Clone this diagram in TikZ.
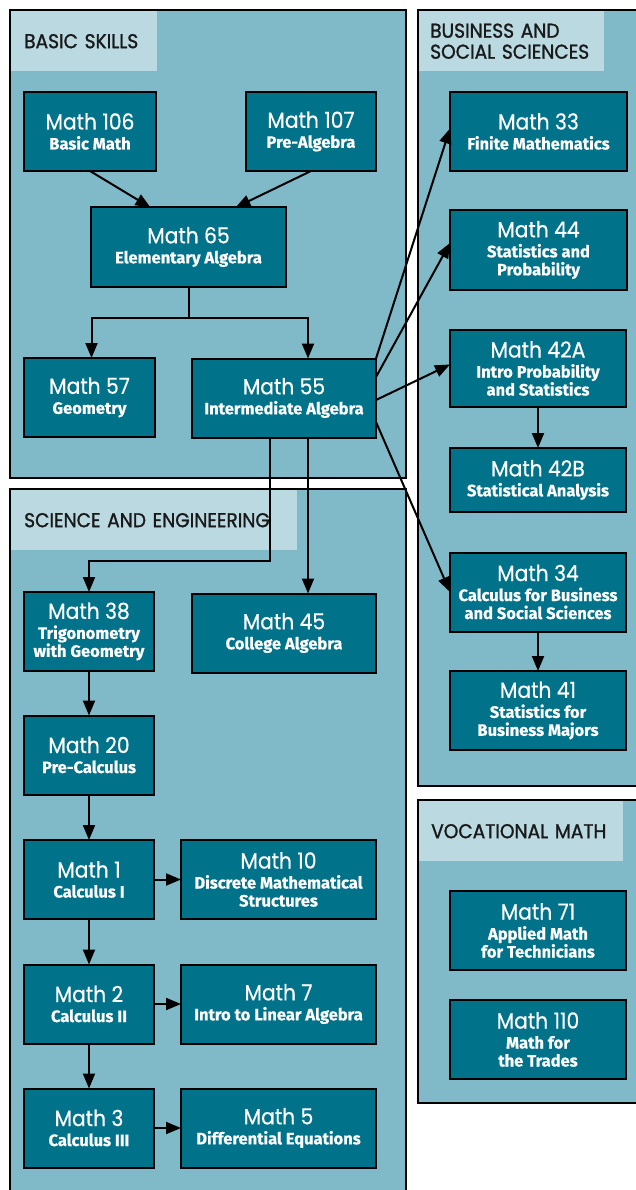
\documentclass[tikz,border=0pt]{standalone}
\usepackage{fontspec}
\usetikzlibrary{arrows.meta}
\newfontfamily\titlefont[FakeStretch=0.92, FakeBold=0.5]{Poppins}
\newfontfamily\headfont[FakeBold=1.2, FakeStretch=0.93]{Poppins}
\newfontfamily\subfont[BoldFeatures={FakeBold=0.6}]{Fira Sans}
\definecolor{panelblue}{RGB}{128,185,200}
\definecolor{labelblue}{RGB}{186,217,225}
\definecolor{courseteal}{RGB}{0,114,138}
\newcommand{\ttl}{\titlefont\mdseries\fontsize{22}{22}\selectfont}
\newcommand{\sbt}{\subfont\bfseries\fontsize{16.5}{18}\selectfont}
\tikzset{
	panel/.style={draw=black, line width=2pt, fill=panelblue},
	panel label/.style={fill=labelblue, anchor=north west, minimum height=60pt, inner xsep=13pt, inner ysep=0pt, align=left, text=black!90, font=\headfont\fontsize{20}{21}\selectfont},
	course/.style={draw=black, line width=2pt, fill=courseteal, text=white, align=center, inner sep=0pt, outer sep=0pt, minimum height=79pt, font=\sbt},
	narrow/.style={course, minimum width=130pt},
	middle/.style={course, minimum width=184pt},
	wide/.style={course, minimum width=195pt},
	right col/.style={course, minimum width=176pt},
	link/.style={line width=2pt},
	arr/.style={line width=2pt, -{Triangle[length=15pt,width=12pt]}}
}
\begin{document}
\begin{tikzpicture}[x=1pt, y=-1pt]
	\clip (0,0) rectangle (636,1190);
	\fill [white] (0,0) rectangle (636,1190);
	\draw [panel] (10,10) rectangle (406,478);
	\draw [panel] (418,10) rectangle (650,786);
	\draw [panel] (10,489) rectangle (406,1210);
	\draw [panel] (418,800) rectangle (650,1103);
	\node [panel label, text width=120pt] (lbasic) at (11,11) {BASIC SKILLS};
	\node [panel label, inner xsep=11pt, text width=163pt] (lbusiness) at (419,11) {BUSINESS AND\\SOCIAL SCIENCES};
	\node [panel label, text width=260pt] (lscience) at (11,490) {SCIENCE AND ENGINEERING};
	\node [panel label, inner xsep=12pt, text width=180pt] (lvocational) at (419,801) {VOCATIONAL MATH};

	\node [narrow, minimum width=132pt] (m106) at (90,131.5) {{\ttl Math 106}\\[2pt]Basic Math};
	\node [narrow] (m107) at (311,131.5) {{\ttl Math 107}\\[2pt]Pre-Algebra};
	\node [wide] (m65) at (188.5,247) {{\ttl Math 65}\\[2pt]Elementary Algebra};
	\node [narrow, minimum width=131pt] (m57) at (89.5,397.5) {{\ttl Math 57}\\[2pt]Geometry};
	\node [middle] (m55) at (284,398) {{\ttl Math 55}\\[2pt]Intermediate Algebra};

	\node [right col, minimum width=177pt] (m33) at (538.5,131.5) {{\ttl Math 33}\\[2pt]Finite Mathematics};
	\node [right col, minimum width=177pt] (m44) at (538.5,250) {{\ttl Math 44}\\[2pt]Statistics and\\Probability};
	\node [right col, minimum height=77pt] (m42a) at (538,368.5) {{\ttl Math 42A}\\[2pt]Intro Probability\\and Statistics};
	\node [right col, minimum height=64pt] (m42b) at (538,480) {{\ttl Math 42B}\\[2pt]Statistical Analysis};
	\node [right col] (m34) at (538,592) {{\ttl Math 34}\\[2pt]Calculus for Business\\and Social Sciences};
	\node [right col] (m41) at (538,710.5) {{\ttl Math 41}\\[2pt]Statistics for\\Business Majors};

	\node [right col] (m71) at (538,930.5) {{\ttl Math 71}\\[2pt]Applied Math\\for Technicians};
	\node [right col] (m110) at (538,1039.5) {{\ttl Math 110}\\[2pt]Math for\\the Trades};

	\node [narrow] (m38) at (89,631.5) {{\ttl Math 38}\\[2pt]Trigonometry\\with Geometry};
	\node [middle] (m45) at (284,633) {{\ttl Math 45}\\[2pt]College Algebra};
	\node [narrow] (m20) at (89,755) {{\ttl Math 20}\\[2pt]Pre-Calculus};
	\node [narrow] (m1) at (89,879.5) {{\ttl Math 1}\\[2pt]Calculus I};
	\node [wide] (m10) at (278.5,879.5) {{\ttl Math 10}\\[2pt]Discrete Mathematical\\Structures};
	\node [narrow] (m2) at (89,1004) {{\ttl Math 2}\\[2pt]Calculus II};
	\node [wide] (m7) at (278.5,1004) {{\ttl Math 7}\\[2pt]Intro to Linear Algebra};
	\node [narrow] (m3) at (89,1128) {{\ttl Math 3}\\[2pt]Calculus III};
	\node [wide] (m5) at (278.5,1128) {{\ttl Math 5}\\[2pt]Differential Equations};

	\draw [arr] (m106.south) -- ([xshift=-38pt]m65.north);
	\draw [arr] (m107.south) -- ([xshift=47pt]m65.north);
	\draw [link] (m65.south) -- ++(0,31) coordinate (split);
	\draw [arr] (split) -| ([xshift=2pt]m57.north);
	\draw [arr] (split) -| ([xshift=24pt]m55.north);
	\draw [arr] ([xshift=-14pt]m55.south) -- ++(0,123) -| (m38.north);
	\draw [arr] ([xshift=24pt]m55.south) -- ([xshift=24pt]m45.north);

	\draw [arr] (m55.north east) -- ([yshift=3pt]m33.west);
	\draw [arr] ([yshift=21pt]m55.east) -- ([yshift=7pt]m44.west);
	\draw [arr] ([yshift=-2pt]m55.east) -- ([yshift=4pt]m42a.west);
	\draw [arr] ([yshift=-24pt]m55.east) -- (m34.west);
	\draw [arr] (m42a) -- (m42b);
	\draw [arr] (m34) -- (m41);

	\foreach \a/\b in {m38/m20, m20/m1, m1/m2, m2/m3, m1/m10, m2/m7, m3/m5} {
		\draw [arr] (\a) -- (\b);
	}
\end{tikzpicture}
\end{document}
